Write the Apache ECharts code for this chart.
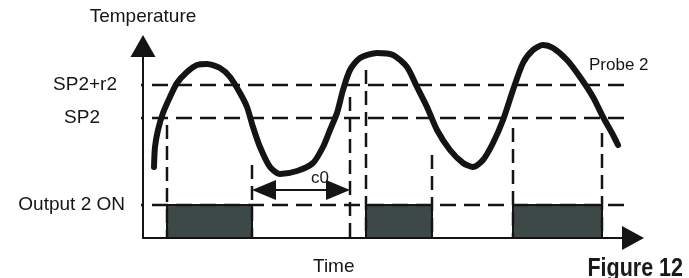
<!DOCTYPE html>
<html>
<head>
<meta charset="utf-8">
<script src="https://cdn.jsdelivr.net/npm/echarts@6/dist/echarts.min.js"></script>
<style>
html,body{margin:0;padding:0;background:#fff;}
#main{width:689px;height:278px;}
</style>
</head>
<body>
<div id="main"></div>
<script>
// probe 2 temperature against time (arbitrary units)
var curveTime = [2.2, 2.4, 3.0, 4.0, 5.4, 6.8, 8.8, 10.8, 12.8, 15.4, 17.4, 19.4, 20.8, 22, 23.4, 25.4, 27.4, 30.8, 34, 36, 37.4, 38.8, 40, 41.4, 43.4, 46.8, 50, 52.8, 54.8, 56.8, 58.8, 61.4, 64, 66, 68, 70, 72, 74, 76, 78, 80, 82, 84.8, 87.4, 90, 92, 93.8, 95];
var curveTemp = [35.5, 45.5, 54, 62.5, 70.5, 77.5, 83, 86.5, 87, 85, 80.5, 72.5, 65.5, 55.5, 45.5, 35.5, 32, 33.5, 37.5, 45.5, 54, 62.5, 74, 84, 90, 92.5, 91.5, 85.5, 75.5, 65.5, 54, 44, 37.5, 35.5, 39, 47.5, 59, 74, 87.5, 94, 96.5, 95, 89, 80.5, 70.5, 60.5, 52.5, 46.5];

// levels marked on the temperature axis
var levelNames = ['Output 2 ON', 'SP2', 'SP2+r2'];
var levelValues = [16.5, 60, 76.5];
var levelFrom = -3, levelTo = 97;

// output 2 on periods
var onStart = [4.8, 44.6, 74];
var onEnd = [21.8, 57.8, 91.8];

// switching instants (dashed verticals) and where they start
var switchTimes = [4.8, 21.8, 41.4, 44.6, 57.8, 74, 91.8];
var switchTops = [56.5, 36.5, 70.5, 84, 41.5, 55, 52.5];

// c0 delay arrow
var c0From = 21.8, c0To = 41.4, c0Level = 24;

var ink = '#141414';
var textInk = '#161616';
var font = "'Liberation Sans', Arial, sans-serif";

function dashSeries(points, dash){
    return {
        type: 'line',
        data: points,
        symbol: 'none',
        clip: false,
        silent: true,
        z: 2,
        lineStyle: {color: ink, width: 2.5, type: dash}
    };
}

var seriesObj = [];
for(var i=0;i<levelValues.length;i++){
    seriesObj.push(dashSeries([[levelFrom, levelValues[i]], [levelTo, levelValues[i]]], [16, 8]));
}
for(var i=0;i<switchTimes.length;i++){
    seriesObj.push(dashSeries([[switchTimes[i], switchTops[i]], [switchTimes[i], 0]], [14, 7]));
}

var areaData = [];
for(var i=0;i<onStart.length;i++){
    areaData.push([{xAxis: onStart[i], yAxis: 0}, {xAxis: onEnd[i], yAxis: levelValues[0]}]);
}
var arrowInset = 2.4;
seriesObj.push({
    type: 'line',
    data: [],
    silent: true,
    z: 3,
    markArea: {
        silent: true,
        itemStyle: {color: '#3d4947', borderColor: ink, borderWidth: 2},
        data: areaData
    },
    markLine: {
        silent: true,
        symbol: ['triangle', 'triangle'],
        symbolSize: [20, 24],
        label: {show: false},
        lineStyle: {color: ink, width: 2, type: 'solid'},
        data: [[{coord: [c0From + arrowInset, c0Level]}, {coord: [c0To - arrowInset, c0Level]}]]
    }
});

var curve = [];
for(var i=0;i<curveTime.length;i++){
    curve.push([curveTime[i], curveTemp[i]]);
}
seriesObj.push({
    type: 'line',
    data: curve,
    symbol: 'none',
    smooth: 0.25,
    clip: false,
    z: 5,
    lineStyle: {color: ink, width: 6, cap: 'round', join: 'round'}
});

var rich = {
    l0: {fontFamily: font, fontSize: 19, color: textInk, padding: [0, 0, 0, 0]},
    l1: {fontFamily: font, fontSize: 19, color: textInk, padding: [0, 25, 0, 0]},
    l2: {fontFamily: font, fontSize: 19, color: textInk, padding: [0, 8, 0, 0]}
};

var chart = echarts.init(document.getElementById('main'));
var option = {
    backgroundColor: '#fff',
    animation: false,
    grid: {left: 143, right: 56, top: 46, bottom: 40},
    xAxis: {
        type: 'value',
        min: 0,
        max: 98,
        axisLine: {show: true, symbol: ['none', 'triangle'], symbolSize: [24, 22], lineStyle: {color: ink, width: 2}},
        axisTick: {show: false},
        axisLabel: {show: false},
        splitLine: {show: false}
    },
    yAxis: {
        type: 'value',
        min: 0,
        max: 96,
        name: 'Temperature',
        nameLocation: 'end',
        nameGap: 20,
        nameTextStyle: {fontFamily: font, fontSize: 19, color: textInk, align: 'center'},
        axisLine: {show: true, symbol: ['none', 'triangle'], symbolSize: [25, 22], lineStyle: {color: ink, width: 2}},
        axisTick: {show: false},
        splitLine: {show: false},
        axisLabel: {
            customValues: levelValues,
            margin: 18,
            formatter: function(v){
                var i = levelValues.indexOf(v);
                return '{l' + i + '|' + levelNames[i] + '}';
            },
            rich: rich
        }
    },
    graphic: [
        {type: 'text', left: 313, top: 257, style: {text: 'Time', font: '19px ' + font, fill: textInk}},
        {type: 'text', left: 589, top: 57, style: {text: 'Probe 2', font: '17px ' + font, fill: textInk}},
        {type: 'text', left: 311, top: 170, style: {text: 'c0', font: '17px ' + font, fill: textInk}},
        {type: 'text', x: 683, y: 269, scaleX: 0.86, style: {text: 'Figure 12', align: 'right', verticalAlign: 'middle', font: "bold 25px 'Liberation Sans', Arial, sans-serif", fill: '#1a1a1a'}}
    ],
    series: seriesObj
};
chart.setOption(option);
</script>
</body>
</html>
